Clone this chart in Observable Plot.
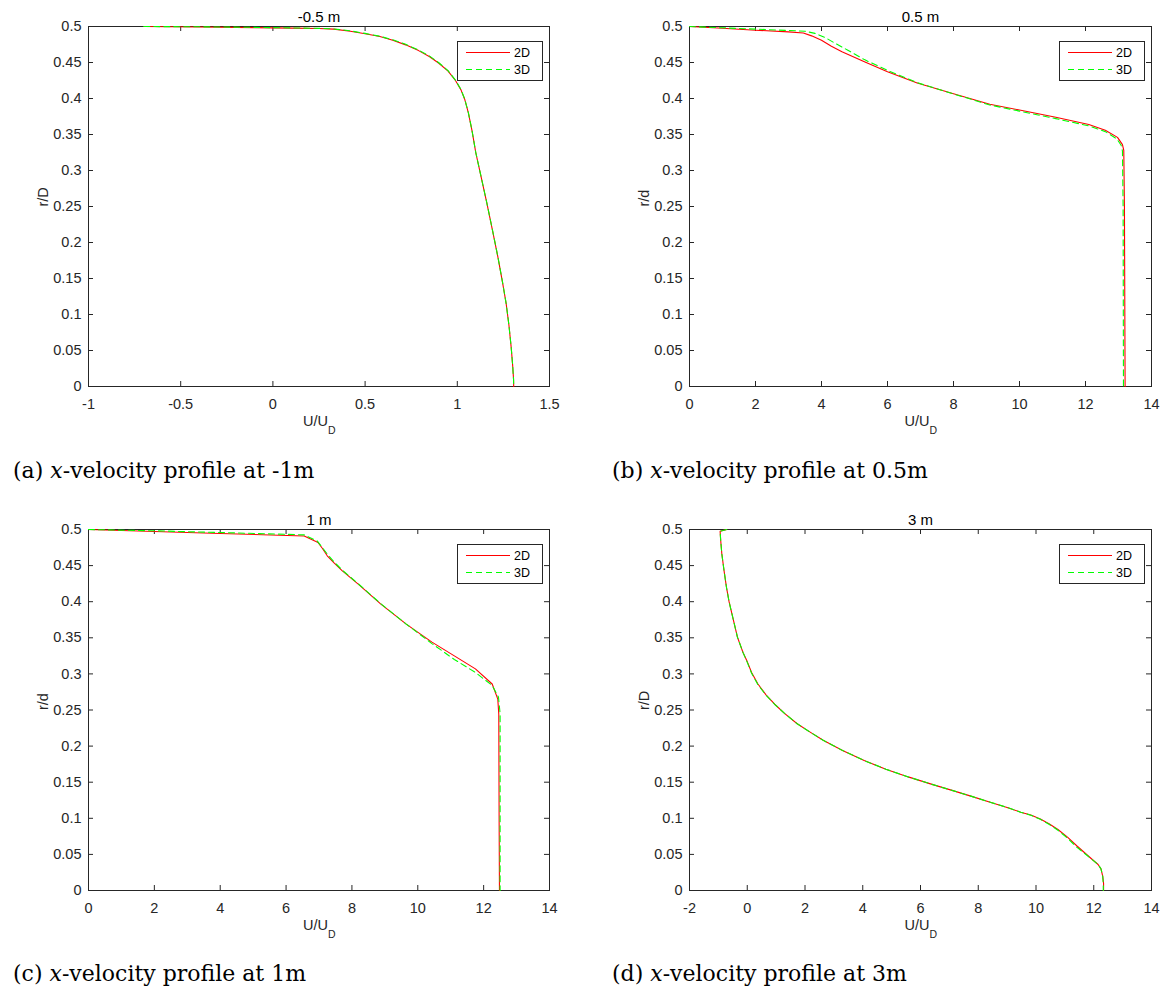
<!DOCTYPE html>
<html><head><meta charset="utf-8">
<script src="https://cdn.jsdelivr.net/npm/d3@7"></script>
<script src="https://cdn.jsdelivr.net/npm/@observablehq/plot@0.6"></script>
<style>
body{margin:0;background:#fff;}
#root{position:relative;width:1164px;height:994px;overflow:hidden;background:#fff;}
.panel{position:absolute;}
.cap{position:absolute;font-family:"DejaVu Serif",serif;font-size:22px;line-height:22px;color:#000;white-space:nowrap;}
</style></head><body><div id="root"></div>
<script>
// ---------- tick values ----------
const yTicks = [0, 0.05, 0.1, 0.15, 0.2, 0.25, 0.3, 0.35, 0.4, 0.45, 0.5];
const xTicksA = [-1, -0.5, 0, 0.5, 1, 1.5];
const xTicksB = [0, 2, 4, 6, 8, 10, 12, 14];
const xTicksC = [0, 2, 4, 6, 8, 10, 12, 14];
const xTicksD = [-2, 0, 2, 4, 6, 8, 10, 12, 14];

// ---------- labels ----------
const titles = ["-0.5 m", "0.5 m", "1 m", "3 m"];
const yLabels = ["r/D", "r/d", "r/d", "r/D"];
const captionLetters = ["(a)", "(b)", "(c)", "(d)"];
const captionPlaces = ["-1m", "0.5m", "1m", "3m"];
const seriesNames = ["2D", "3D"];
const seriesColors = ["#ff0000", "#00ff00"];

// ---------- panel (a) -0.5 m ----------
const uA2D = [-0.70,-0.40,-0.10,0.10,0.25,0.33,0.42,0.50,0.58,0.65,0.72,0.79,0.85,0.90,0.95,0.99,1.02,1.04,1.06,1.08,1.10,1.13,1.16,1.19,1.22,1.245,1.265,1.28,1.292,1.300,1.305,1.306];
const rA2D = [0.5,0.4993,0.4985,0.4978,0.4972,0.4963,0.4935,0.4900,0.4860,0.4810,0.4745,0.4665,0.4580,0.4490,0.4380,0.4250,0.4120,0.3990,0.3800,0.3550,0.3250,0.2900,0.2550,0.2180,0.1800,0.1450,0.1150,0.0850,0.0550,0.0300,0.0100,0.0];
const uA3D = [-0.70,-0.40,-0.10,0.10,0.25,0.33,0.42,0.50,0.58,0.65,0.72,0.79,0.85,0.90,0.95,0.99,1.02,1.04,1.06,1.08,1.10,1.13,1.16,1.19,1.22,1.245,1.265,1.28,1.292,1.300,1.305,1.306];
const rA3D = [0.5,0.4996,0.4988,0.4980,0.4974,0.4966,0.4940,0.4904,0.4865,0.4816,0.4752,0.4672,0.4588,0.4497,0.4386,0.4255,0.4124,0.3993,0.3803,0.3552,0.3252,0.2902,0.2552,0.2182,0.1802,0.1452,0.1152,0.0852,0.0552,0.0302,0.0100,0.0];

// ---------- panel (b) 0.5 m ----------
const uB2D = [0,1.0,2.0,3.0,3.45,3.7,4.0,4.3,4.62,5.3,6.0,6.9,8.0,9.1,10.0,11.1,12.1,12.6,12.97,13.12,13.16,13.18,13.2];
const rB2D = [0.5,0.4975,0.4948,0.4925,0.4910,0.4870,0.4810,0.4725,0.4650,0.4510,0.4370,0.4215,0.4065,0.3920,0.3840,0.3740,0.3640,0.3560,0.3460,0.3360,0.3280,0.2500,0.0];
const uB3D = [0,1.0,2.0,3.0,3.5,3.8,4.1,4.4,4.8,5.3,6.0,6.9,8.0,9.1,10.0,11.1,12.1,12.6,12.95,13.08,13.12,13.14,13.15];
const rB3D = [0.5,0.4982,0.4963,0.4945,0.4935,0.4905,0.4850,0.4770,0.4670,0.4540,0.4390,0.4220,0.4063,0.3910,0.3825,0.3720,0.3620,0.3540,0.3440,0.3350,0.3270,0.2500,0.0];

// ---------- panel (c) 1 m ----------
const uC2D = [0,2.0,4.0,6.55,6.97,7.1,7.25,7.45,7.7,8.2,8.87,9.65,10.43,11.11,11.75,12.26,12.43,12.46,12.47,12.48];
const rC2D = [0.5,0.4972,0.4945,0.4910,0.4820,0.4740,0.4636,0.4540,0.4430,0.4240,0.3970,0.3690,0.3440,0.3250,0.3070,0.2860,0.2650,0.2440,0.1000,0.0];
const uC3D = [0,2.0,4.0,6.55,6.95,7.1,7.25,7.45,7.7,8.2,8.87,9.65,10.43,11.11,11.75,12.26,12.45,12.50,12.50,12.50];
const rC3D = [0.5,0.4982,0.4958,0.4926,0.4840,0.4750,0.4660,0.4555,0.4440,0.4245,0.3975,0.3690,0.3420,0.3200,0.3020,0.2840,0.2680,0.2450,0.1000,0.0];

// ---------- panel (d) 3 m ----------
const uD2D = [-0.71,-0.94,-0.92,-0.88,-0.80,-0.72,-0.63,-0.53,-0.34,-0.15,-0.01,0.15,0.37,0.65,0.95,1.30,1.73,2.15,2.63,3.3,4.05,4.8,5.6,6.4,7.15,7.8,8.44,9.0,9.47,9.82,10.15,10.45,10.76,11.1,11.41,11.92,12.15,12.25,12.31,12.34,12.34];
const rD2D = [0.5,0.4975,0.4850,0.4660,0.4420,0.4200,0.4000,0.3830,0.3510,0.3300,0.3180,0.3020,0.2860,0.2710,0.2580,0.2450,0.2310,0.2200,0.2080,0.1940,0.1800,0.1680,0.1570,0.1470,0.1380,0.1300,0.1220,0.1150,0.1085,0.1045,0.0990,0.0925,0.0845,0.0735,0.0620,0.0440,0.0360,0.0300,0.0200,0.0100,0.0];
const uD3D = [-0.71,-0.94,-0.92,-0.88,-0.80,-0.72,-0.63,-0.53,-0.34,-0.15,-0.01,0.15,0.37,0.65,0.95,1.30,1.73,2.15,2.63,3.3,4.05,4.8,5.6,6.4,7.15,7.8,8.44,9.0,9.47,9.82,10.15,10.45,10.76,11.1,11.41,11.85,12.15,12.25,12.31,12.33,12.33];
const rD3D = [0.5,0.4975,0.4850,0.4660,0.4420,0.4200,0.4000,0.3830,0.3510,0.3300,0.3170,0.3010,0.2850,0.2705,0.2578,0.2450,0.2310,0.2200,0.2080,0.1940,0.1800,0.1680,0.1570,0.1470,0.1380,0.1300,0.1220,0.1150,0.1085,0.1043,0.0986,0.0918,0.0835,0.0722,0.0600,0.0460,0.0360,0.0300,0.0200,0.0100,0.0];

// ---------- build ----------
const toRows = (u, r) => u.map((v, i) => ({u: v, r: r[i]}));
const AX = "#262626";
const FONT = "'Liberation Sans', Arial, Helvetica, sans-serif";
const FS = 14.5;

const panels = [
  {left: 0, top: 0, width: 580, mL: 88, mR: 31, mT: 26, mB: 54, domain: [-1, 1.5], xt: xTicksA, s2: toRows(uA2D, rA2D), s3: toRows(uA3D, rA3D)},
  {left: 600, top: 0, width: 564, mL: 89, mR: 13, mT: 26, mB: 54, domain: [0, 14], xt: xTicksB, s2: toRows(uB2D, rB2D), s3: toRows(uB3D, rB3D)},
  {left: 0, top: 503, width: 580, mL: 88, mR: 31, mT: 26, mB: 53, domain: [0, 14], xt: xTicksC, s2: toRows(uC2D, rC2D), s3: toRows(uC3D, rC3D)},
  {left: 600, top: 503, width: 564, mL: 89, mR: 13, mT: 26, mB: 53, domain: [-2, 14], xt: xTicksD, s2: toRows(uD2D, rD2D), s3: toRows(uD3D, rD3D)}
];
const H = 440;
const TL = 5;
const root = document.getElementById("root");

panels.forEach((p, i) => {
  const fw = p.width - p.mL - p.mR;
  const fh = H - p.mT - p.mB;
  const svg = Plot.plot({
    width: p.width, height: H,
    marginLeft: p.mL, marginRight: p.mR, marginTop: p.mT, marginBottom: p.mB,
    style: {fontFamily: FONT, fontSize: FS + "px", color: AX, background: "transparent", overflow: "visible"},
    x: {domain: p.domain},
    y: {domain: [0, 0.5]},
    marks: [
      Plot.axisX(p.xt, {tickSize: 0, tickPadding: 12, tickFormat: d => String(d), label: null, fill: AX, fontSize: FS, fontFamily: FONT}),
      Plot.axisY(yTicks, {tickSize: 0, tickPadding: 7, tickFormat: d => String(d), label: null, fill: AX, fontSize: FS, fontFamily: FONT}),
      Plot.tickX(p.xt, {x: d => d, insetTop: fh - TL, stroke: AX}),
      Plot.tickX(p.xt, {x: d => d, insetBottom: fh - TL, stroke: AX}),
      Plot.tickY(yTicks, {y: d => d, insetRight: fw - TL, stroke: AX}),
      Plot.tickY(yTicks, {y: d => d, insetLeft: fw - TL, stroke: AX}),
      Plot.frame({stroke: AX, strokeWidth: 1}),
      Plot.line(p.s2, {x: "u", y: "r", stroke: seriesColors[0], strokeWidth: 1.1}),
      Plot.line(p.s3, {x: "u", y: "r", stroke: seriesColors[1], strokeWidth: 1.1, strokeDasharray: "6,4"}),
      Plot.text([titles[i]], {text: d => d, frameAnchor: "top", dy: -15, fontSize: 15, fontFamily: FONT, fill: "#000"}),
      Plot.text(["U/U"], {text: d => d, frameAnchor: "bottom", dx: 9, dy: 39, textAnchor: "end", fontSize: FS, fontFamily: FONT, fill: AX}),
      Plot.text(["D"], {text: d => d, frameAnchor: "bottom", dx: 9, dy: 47, textAnchor: "start", fontSize: 10.5, fontFamily: FONT, fill: AX}),
      Plot.text([yLabels[i]], {text: d => d, frameAnchor: "left", dx: -45, rotate: -90, fontSize: FS, fontFamily: FONT, fill: AX})
    ]
  });
  svg.classList.add("panel");
  svg.style.left = p.left + "px";
  svg.style.top = p.top + "px";

  // legend (northeast)
  const fr = p.width - p.mR, ft = p.mT;
  const g = d3.select(svg).append("g").attr("font-family", FONT).attr("font-size", 12.5).attr("text-anchor", "start");
  g.append("rect").attr("x", fr - 91.5).attr("y", ft + 15.5).attr("width", 85).attr("height", 39)
    .attr("fill", "#fff").attr("stroke", AX).attr("stroke-width", 1);
  seriesNames.forEach((name, k) => {
    const yy = ft + 26.5 + k * 17;
    g.append("line").attr("x1", fr - 83).attr("x2", fr - 39).attr("y1", yy).attr("y2", yy)
      .attr("stroke", seriesColors[k]).attr("stroke-width", 1.1)
      .attr("stroke-dasharray", k === 1 ? "6,4" : null);
    g.append("text").attr("x", fr - 35).attr("y", yy).attr("dy", "0.35em").attr("fill", "#000").text(name);
  });
  root.appendChild(svg);

  // caption
  const cap = document.createElement("div");
  cap.className = "cap";
  cap.style.left = (p.left === 0 ? 13 : 612) + "px";
  cap.style.top = (p.top + 460) + "px";
  cap.innerHTML = captionLetters[i] + " <i>x</i>-velocity profile at " + captionPlaces[i];
  root.appendChild(cap);
});
</script></body></html>
